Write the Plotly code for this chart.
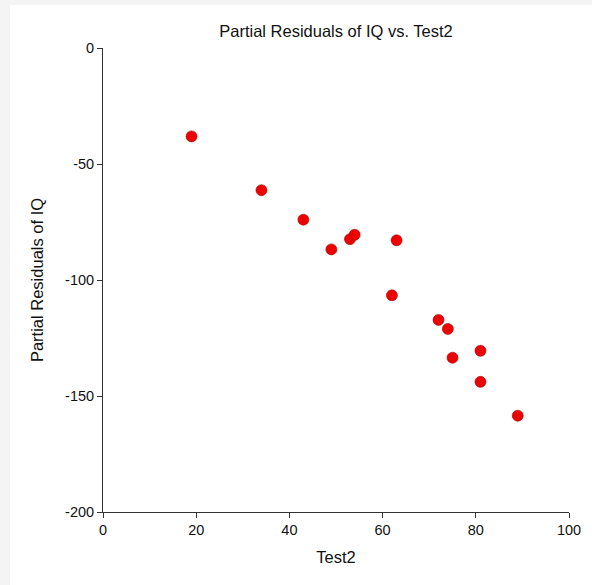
import plotly.graph_objects as go

# Test2 scores and partial residuals of IQ
test2 = [19, 34, 43, 49, 53, 54, 62, 63, 72, 74, 75, 81, 81, 89]
partial_resid = [-38.1, -61.3, -74.0, -86.8, -82.4, -80.5, -106.6, -82.9,
                 -117.2, -121.1, -133.5, -130.5, -143.9, -158.5]

x_ticks = [0, 20, 40, 60, 80, 100]
y_ticks = [0, -50, -100, -150, -200]
y_tick_text = ["0", "-50", "-100", "-150", "-200"]

font = "Liberation Sans, Arial, sans-serif"

fig = go.Figure()
fig.add_trace(go.Scatter(
    x=test2, y=partial_resid, mode="markers",
    marker=dict(size=11, color="#ee0000", line=dict(color="#a00000", width=0.6)),
    showlegend=False, hoverinfo="x+y",
))

W, H = 592, 585
L, R, T, B = 103, 23, 48, 73
pw, ph = W - L - R, H - T - B

fig.update_layout(
    width=W, height=H,
    margin=dict(l=L, r=R, t=T, b=B),
    paper_bgcolor="#f4f4f4",
    plot_bgcolor="white",
    font=dict(family=font, size=14.5, color="#111"),
    title=dict(text="Partial Residuals of IQ vs. Test2", x=336 / W,
               xanchor="center", y=1 - 31 / H, yanchor="middle",
               font=dict(size=16.5, family=font, color="#111")),
    shapes=[dict(type="rect", xref="paper", yref="paper", layer="below",
                 x0=(10 - L) / pw, x1=(W + 5 - L) / pw,
                 y0=-(B + 5) / ph, y1=(H - B - 5) / ph,
                 fillcolor="white", line=dict(width=0))],
)

fig.update_xaxes(
    range=[0, 100], tickvals=x_ticks, ticks="outside", ticklen=5, tickwidth=1,
    tickcolor="#333", showline=True, linecolor="#333", linewidth=1,
    showgrid=False, zeroline=False, tickfont=dict(size=14.5),
    title=dict(text="Test2", font=dict(size=16.5), standoff=14),
)
fig.update_yaxes(
    range=[-200, 0], tickvals=y_ticks, ticktext=y_tick_text, ticks="outside",
    ticklen=5, tickwidth=1,
    tickcolor="#333", showline=True, linecolor="#333", linewidth=1,
    showgrid=False, zeroline=False, tickfont=dict(size=14.5),
    title=dict(text="Partial Residuals of IQ", font=dict(size=16.5), standoff=17),
)

fig.write_html("out.html")
